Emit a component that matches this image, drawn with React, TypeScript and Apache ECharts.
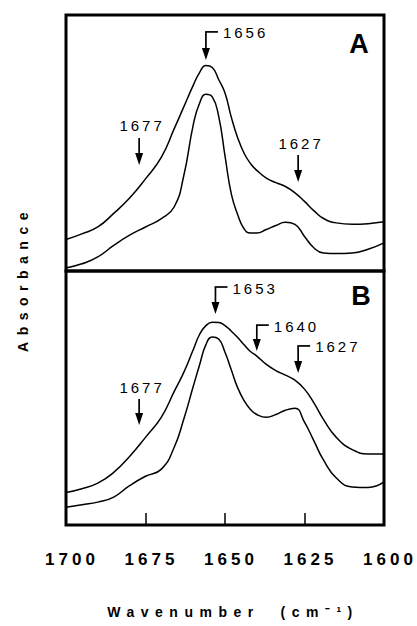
import React, { useEffect, useRef } from 'react';
import * as echarts from 'echarts';

// Wavenumber grid (cm^-1) shared by all traces
const wavenumbers = [1700, 1695, 1690, 1685, 1680, 1675, 1670, 1666, 1663, 1660, 1658, 1656, 1654, 1652, 1650, 1648, 1646, 1644, 1642, 1640, 1637, 1634, 1631, 1628, 1625, 1622, 1619, 1615, 1610, 1605, 1600];

// Panel A (relative absorbance)
const absAUpper = [0.123, 0.145, 0.172, 0.225, 0.285, 0.36, 0.445, 0.555, 0.64, 0.725, 0.775, 0.803, 0.795, 0.748, 0.695, 0.6, 0.52, 0.46, 0.42, 0.393, 0.363, 0.345, 0.33, 0.305, 0.272, 0.235, 0.205, 0.188, 0.183, 0.185, 0.192];
const absALower = [0.012, 0.028, 0.055, 0.1, 0.14, 0.172, 0.205, 0.25, 0.37, 0.57, 0.655, 0.69, 0.68, 0.605, 0.45, 0.3, 0.22, 0.165, 0.148, 0.148, 0.162, 0.178, 0.19, 0.182, 0.135, 0.09, 0.07, 0.068, 0.07, 0.085, 0.11];

// Panel B (relative absorbance)
const absBUpper = [0.128, 0.143, 0.165, 0.207, 0.27, 0.345, 0.425, 0.525, 0.6, 0.69, 0.75, 0.785, 0.798, 0.797, 0.785, 0.763, 0.738, 0.71, 0.683, 0.665, 0.632, 0.608, 0.59, 0.57, 0.535, 0.48, 0.415, 0.345, 0.297, 0.28, 0.28];
const absBLower = [0.07, 0.08, 0.09, 0.11, 0.155, 0.192, 0.22, 0.305, 0.415, 0.545, 0.63, 0.71, 0.74, 0.732, 0.68, 0.61, 0.54, 0.49, 0.455, 0.435, 0.424, 0.435, 0.452, 0.46, 0.405, 0.33, 0.255, 0.185, 0.15, 0.148, 0.17];

// Peak annotations, panel A
const annAWn = [1656, 1677, 1627];
const annATop = [0.934, 0.52, 0.453];
const annATip = [0.824, 0.414, 0.348];
const annABent = [1, 0, 0];
const annALabels = ['1656', '1677', '1627'];

// Peak annotations, panel B
const annBWn = [1653, 1640, 1627, 1677];
const annBTop = [0.937, 0.787, 0.705, 0.496];
const annBTip = [0.831, 0.685, 0.598, 0.394];
const annBBent = [1, 1, 1, 0];
const annBLabels = ['1653', '1640', '1627', '1677'];

const xTicks = [1700, 1675, 1650, 1625, 1600];

const FONT = '"Liberation Sans", Arial, sans-serif';

function pairs(xs: number[], ys: number[]) {
  return xs.map((x, i) => [x, ys[i]]);
}

function arrowRenderer(labels: string[]) {
  return (params: any, api: any) => {
    const wn = api.value(0);
    const top = api.coord([wn, api.value(1)]);
    const tip = api.coord([wn, api.value(2)]);
    const bent = api.value(3) === 1;
    const x = top[0];
    const ah = 12;
    const aw = 4;
    const children: any[] = [
      { type: 'line', shape: { x1: x, y1: top[1], x2: x, y2: tip[1] - ah + 2 }, style: { stroke: '#000', lineWidth: 1.7 } },
      { type: 'polygon', shape: { points: [[x - aw, tip[1] - ah], [x + aw, tip[1] - ah], [x, tip[1]]] }, style: { fill: '#000' } },
    ];
    if (bent) {
      children.push({ type: 'line', shape: { x1: x - 0.8, y1: top[1], x2: x + 12, y2: top[1] }, style: { stroke: '#000', lineWidth: 1.7 } });
      children.push({
        type: 'text',
        style: { text: labels[params.dataIndex], x: x + 17, y: top[1] + 1, textAlign: 'left', textVerticalAlign: 'middle', font: '15px ' + FONT, fill: '#000' },
      });
    } else {
      children.push({
        type: 'text',
        style: { text: labels[params.dataIndex], x: x + 3, y: top[1] - 12, textAlign: 'center', textVerticalAlign: 'middle', font: '15px ' + FONT, fill: '#000' },
      });
    }
    return { type: 'group', children };
  };
}

const css = `
.ir-chart text[style*="17px"] { letter-spacing: 4px; }
.ir-chart text[style*="15px"] { letter-spacing: 3px; }
.ir-chart text[style*="14px"] { letter-spacing: 6.5px; }
`;

export default function App() {
  const ref = useRef<HTMLDivElement>(null);
  useEffect(() => {
    if (!ref.current) return;
    const chart = echarts.init(ref.current, undefined, { renderer: 'svg' });
    const lineStyle = { color: '#000', width: 1.5 };
    const gridCommon = { left: 66, right: 33, show: true, borderColor: '#000', borderWidth: 3, backgroundColor: 'transparent' };
    const xCommon = { type: 'value', min: 1600, max: 1700, interval: 25, inverse: true, splitLine: { show: false }, axisLine: { show: false } };
    chart.setOption({
      animation: false,
      backgroundColor: '#fff',
      grid: [
        { ...gridCommon, top: 15, height: 256 },
        { ...gridCommon, top: 271, height: 254 },
      ],
      xAxis: [
        { ...xCommon, gridIndex: 0, axisLabel: { show: false }, axisTick: { show: false } },
        {
          ...xCommon,
          gridIndex: 1,
          axisTick: { show: true, inside: true, length: 12, lineStyle: { color: '#000', width: 1.5 } },
          axisLabel: {
            show: true,
            margin: 26,
            color: '#000',
            fontSize: 17,
            fontWeight: 'bold',
            fontFamily: FONT,
            padding: [0, 0, 0, 12],
            formatter: (v: number) => (xTicks.includes(v) ? String(v) : ''),
          },
          name: 'Wavenumber  (cm\u207B\u00B9)',
          nameLocation: 'middle',
          nameGap: 80,
          nameTextStyle: { color: '#000', fontSize: 14, fontWeight: 'bold', fontFamily: FONT, padding: [0, 0, 0, 16] },
        },
      ],
      yAxis: [
        { type: 'value', gridIndex: 0, min: 0, max: 1, show: false },
        { type: 'value', gridIndex: 1, min: 0, max: 1, show: false },
      ],
      graphic: [
        { type: 'text', x: 359, y: 44, style: { text: 'A', font: 'bold 27px ' + FONT, fill: '#000', textAlign: 'center', textVerticalAlign: 'middle' } },
        { type: 'text', x: 361, y: 296, style: { text: 'B', font: 'bold 27px ' + FONT, fill: '#000', textAlign: 'center', textVerticalAlign: 'middle' } },
        { type: 'text', x: 23, y: 279, rotation: Math.PI / 2, style: { text: 'Absorbance', font: 'bold 14px ' + FONT, fill: '#000', textAlign: 'center', textVerticalAlign: 'middle' } },
      ],
      series: [
        { type: 'line', xAxisIndex: 0, yAxisIndex: 0, data: pairs(wavenumbers, absAUpper), smooth: 0.5, showSymbol: false, lineStyle },
        { type: 'line', xAxisIndex: 0, yAxisIndex: 0, data: pairs(wavenumbers, absALower), smooth: 0.5, showSymbol: false, lineStyle },
        { type: 'line', xAxisIndex: 1, yAxisIndex: 1, data: pairs(wavenumbers, absBUpper), smooth: 0.5, showSymbol: false, lineStyle },
        { type: 'line', xAxisIndex: 1, yAxisIndex: 1, data: pairs(wavenumbers, absBLower), smooth: 0.5, showSymbol: false, lineStyle },
        {
          type: 'custom', xAxisIndex: 0, yAxisIndex: 0, clip: false, silent: true,
          renderItem: arrowRenderer(annALabels),
          data: annAWn.map((w, i) => [w, annATop[i], annATip[i], annABent[i]]),
        },
        {
          type: 'custom', xAxisIndex: 1, yAxisIndex: 1, clip: false, silent: true,
          renderItem: arrowRenderer(annBLabels),
          data: annBWn.map((w, i) => [w, annBTop[i], annBTip[i], annBBent[i]]),
        },
      ],
    });
    return () => chart.dispose();
  }, []);
  return (
    <>
      <style>{css}</style>
      <div ref={ref} className="ir-chart" style={{ position: 'absolute', left: 0, top: 0, width: 417, height: 626 }} />
    </>
  );
}
